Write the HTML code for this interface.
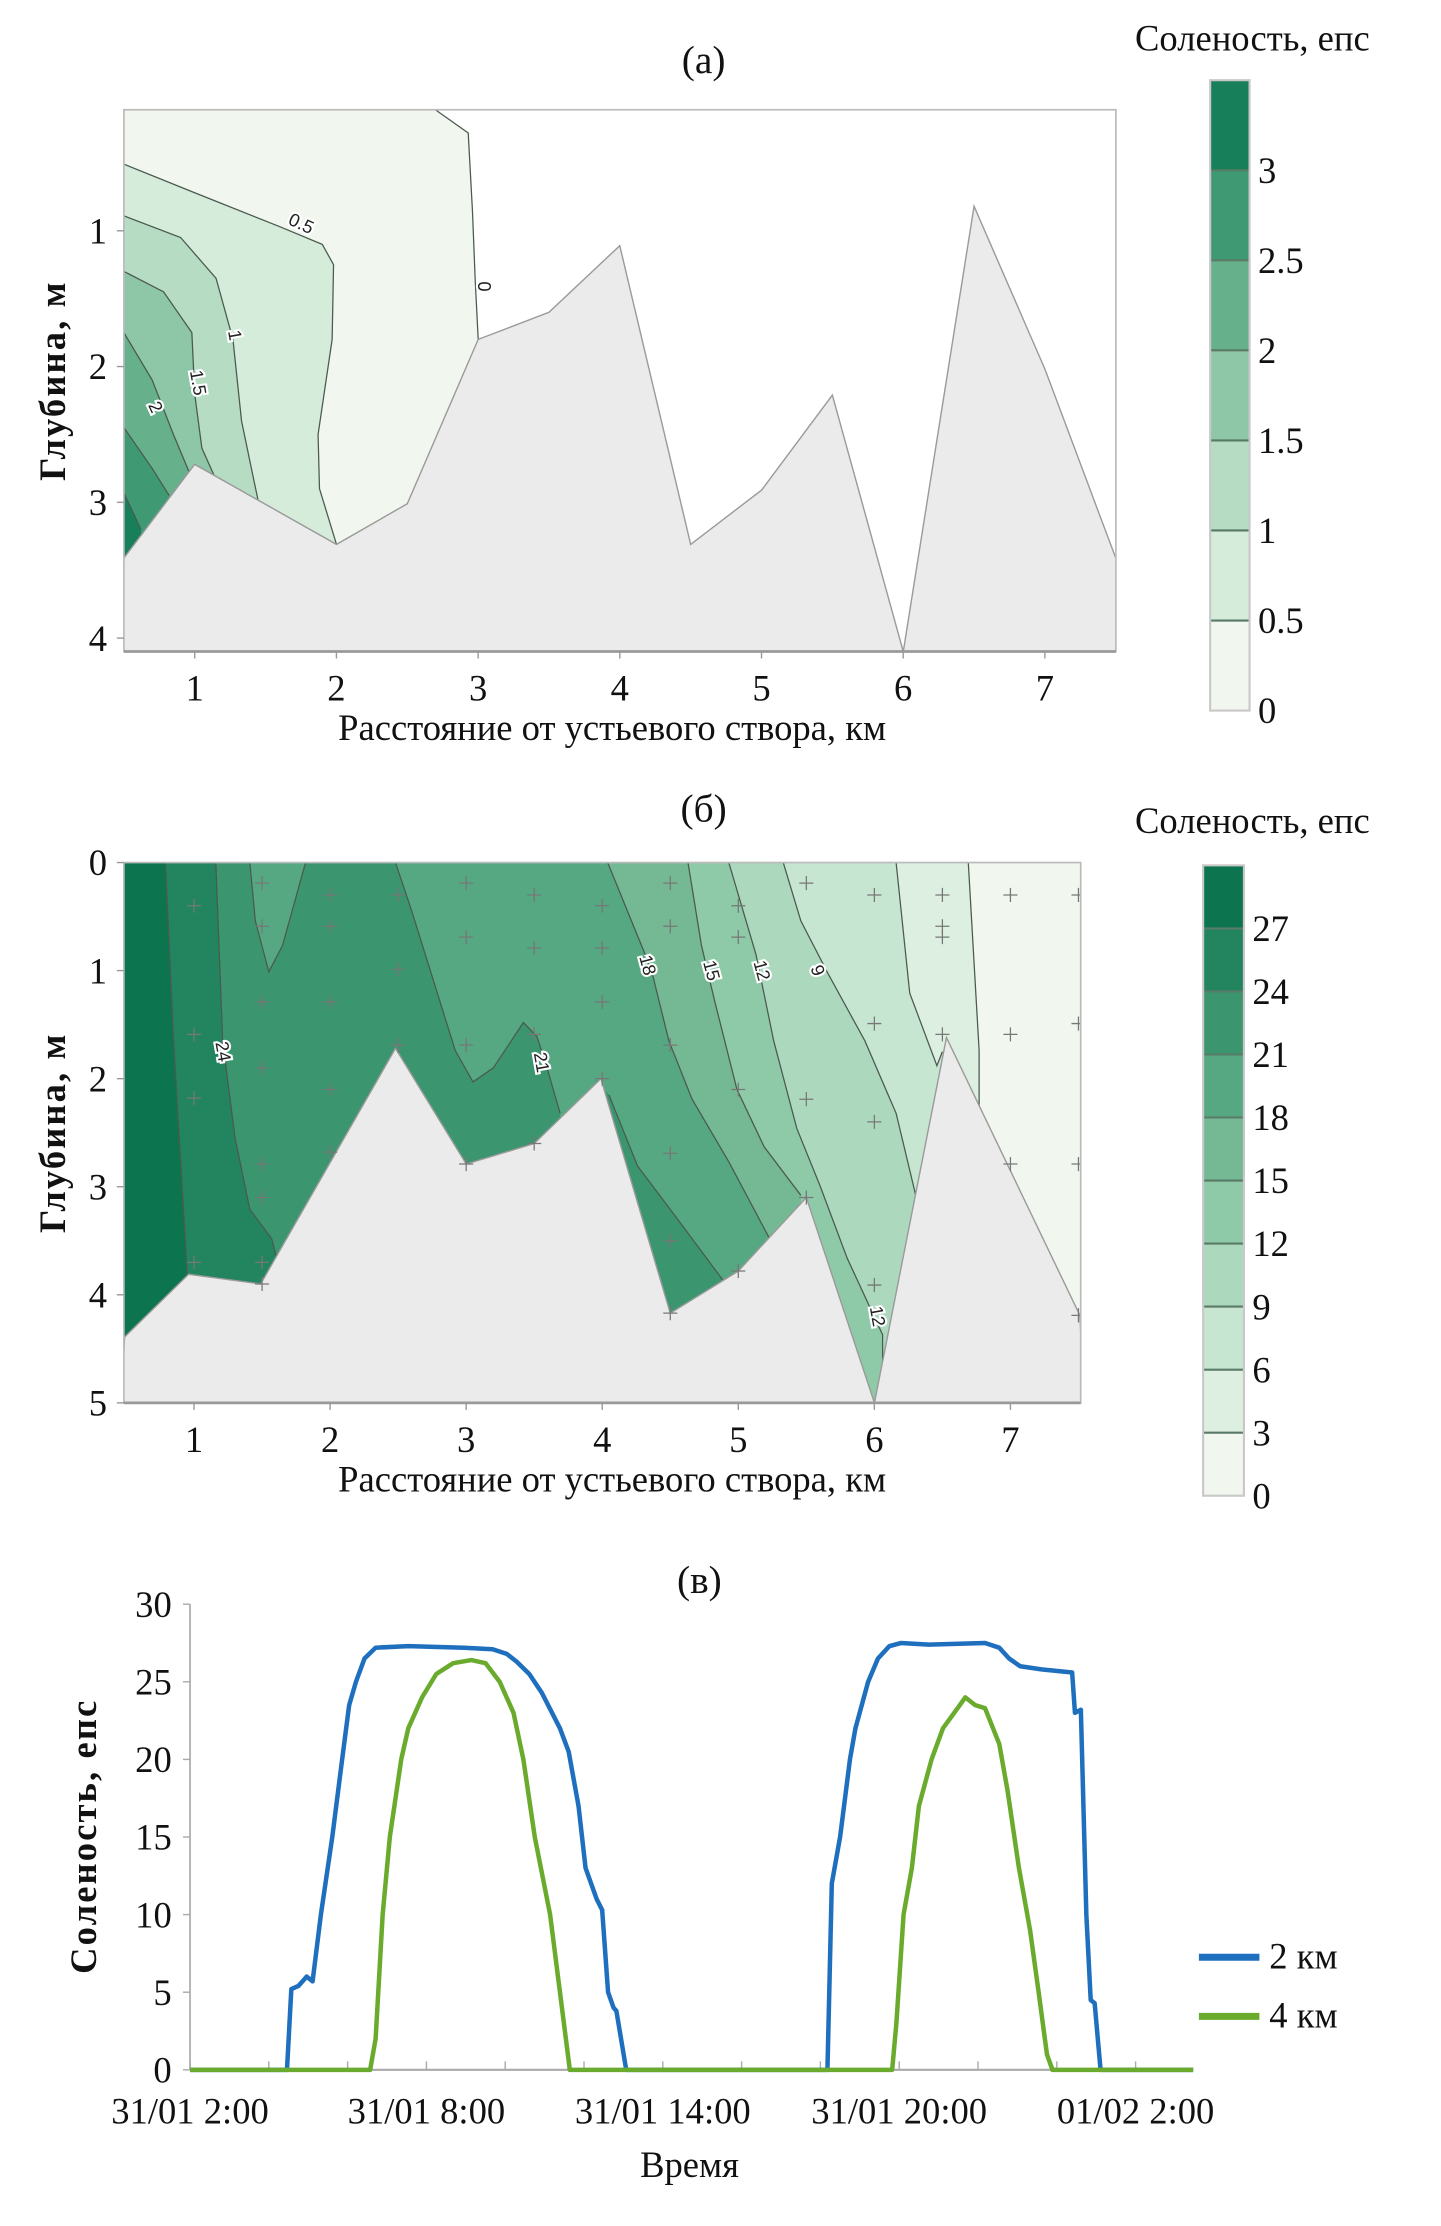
<!DOCTYPE html>
<html><head><meta charset="utf-8">
<style>
html,body{margin:0;padding:0;background:#fff;}
svg{display:block;}
text{font-family:"Liberation Serif",serif;fill:#111;}
.cl{font-family:"Liberation Sans",sans-serif;font-size:13px;fill:#222;stroke:#fff;stroke-width:3px;paint-order:stroke;}
</style></head>
<body>
<svg id="fig" xmlns="http://www.w3.org/2000/svg" width="1441" height="2226" viewBox="0 0 1024 1582">
<rect width="1024" height="1582" fill="#fff"/>
</svg>
<script>
// ---------- DATA: panel (a) ----------
const aBottomKm = [0.5,1.0,2.0,2.5,3.0,3.5,4.0,4.5,5.0,5.5,6.0,6.5,7.0,7.5];
const aBottomDepth = [3.41,2.72,3.31,3.01,1.80,1.60,1.11,3.31,2.91,2.21,4.10,0.82,2.02,3.41];
const aColors = ['#f1f7ee','#d6ecdb','#b6dcc4','#8dc7a7','#66b08b','#3f9a73','#17805a'];
const aContour0 = [[2.70,0.11],[2.93,0.28],[2.96,0.85],[2.98,1.37],[3.0,1.80]];
const aContour05 = [[0.5,0.51],[1.0,0.72],[1.6,0.97],[1.9,1.10],[1.98,1.25],[1.97,1.8],[1.87,2.5],[1.88,2.9],[2.0,3.31]];
const aContour1 = [[0.5,0.89],[0.9,1.05],[1.15,1.35],[1.27,1.8],[1.33,2.4],[1.42,2.85],[1.45,3.0]];
const aContour15 = [[0.5,1.3],[0.78,1.45],[0.98,1.75],[1.0,2.2],[1.05,2.6],[1.2,2.95]];
const aContour2 = [[0.5,1.75],[0.7,2.1],[0.85,2.5],[0.97,2.8]];
const aContour25 = [[0.5,2.45],[0.7,2.75],[0.82,2.95]];
const aContour3 = [[0.5,2.93],[0.62,3.2]];
const aLabels = [['0.5',1.75,0.95,25],['0',3.04,1.41,90],['1',1.28,1.77,80],['1.5',1.02,2.12,80],['2',0.72,2.3,65]];
const aXTicks = [1,2,3,4,5,6,7];
const aYTicks = [1,2,3,4];
const aBarLabels = ['0','0.5','1','1.5','2','2.5','3'];

// ---------- DATA: panel (б) ----------
const bBottomKm = [0.49,0.96,1.49,2.48,3.0,3.5,3.99,4.5,5.0,5.5,6.0,6.53,7.51];
const bBottomDepth = [4.39,3.81,3.90,1.72,2.79,2.6,2.0,4.17,3.78,3.1,5.0,1.62,4.19];
const bColors = ['#f1f7ee','#ddefe0','#c7e6d2','#acd9be','#8fcaa8','#74b894','#56a882','#3b9670','#228560','#0c7550'];
const bContour3 = [[6.69,0],[6.77,1.74],[6.77,2.25]];
const bContour6 = [[6.16,0],[6.26,1.21],[6.46,1.88],[6.5,1.75]];
const bContour9 = [[5.33,0],[5.46,0.54],[5.66,1.03],[5.93,1.65],[6.16,2.32],[6.3,3.06],[6.35,3.4]];
const bContour12 = [[4.93,0],[5.13,0.85],[5.26,1.65],[5.43,2.46],[5.6,2.99],[5.8,3.66],[6.06,4.37],[6.06,4.8]];
const bContour15 = [[4.63,0],[4.73,0.77],[4.83,1.3],[4.99,2.1],[5.19,2.63],[5.46,3.08]];
const bContour18 = [[4.04,0],[4.26,0.68],[4.36,0.99],[4.49,1.65],[4.66,2.19],[4.93,2.77],[5.23,3.48]];
const bContour21 = [[2.48,0],[2.6,0.45],[2.92,1.74],[3.05,2.03],[3.2,1.9],[3.42,1.48],[3.52,1.61],[3.59,1.88],[3.69,2.32]];
const bContour21Island = [[1.41,0],[1.45,0.54],[1.55,1.01],[1.65,0.77],[1.82,0]];
const bContour21Trough = [[4.05,2.15],[4.09,2.28],[4.26,2.81],[4.53,3.26],[4.89,3.87]];
const bContour24 = [[1.16,0],[1.21,1.65],[1.30,2.54],[1.41,3.21],[1.57,3.48],[1.62,3.72]];
const bContour27 = [[0.79,0],[0.85,1.65],[0.95,3.81]];
const bLabels = [['24',1.21,1.75,80],['21',3.55,1.85,80],['18',4.33,0.95,75],['15',4.8,1.0,75],['12',5.17,1.0,75],['9',5.58,1.0,70],['12',6.02,4.2,80]];
const bStationKm = [1,1,1,1,1.5,1.5,1.5,1.5,1.5,1.5,1.5,1.5,2,2,2,2,2,2.5,2.5,2.5,3,3,3,3,3.5,3.5,3.5,3.5,4,4,4,4,4.5,4.5,4.5,4.5,4.5,4.5,5,5,5,5,5.5,5.5,5.5,6,6,6,6,6.5,6.5,6.5,6.5,7,7,7,7.5,7.5,7.5,7.5];
const bStationDepth = [0.4,1.59,2.18,3.7,0.19,0.59,1.29,1.9,2.79,3.1,3.7,3.9,0.3,0.59,1.29,2.1,2.68,0.3,0.99,1.69,0.19,0.69,1.69,2.79,0.3,0.79,1.59,2.6,0.4,0.79,1.29,2.0,0.19,0.59,1.69,2.69,3.5,4.17,0.4,0.69,2.1,3.78,0.19,2.19,3.1,0.3,1.49,2.4,3.91,0.3,0.59,0.69,1.59,0.3,1.59,2.79,0.3,1.49,2.79,4.19];
const bXTicks = [1,2,3,4,5,6,7];
const bYTicks = [0,1,2,3,4,5];
const bBarLabels = ['0','3','6','9','12','15','18','21','24','27'];

// ---------- DATA: panel (в) ----------
const cBlueHours = [0,2.46,2.57,2.75,2.96,3.11,3.32,3.61,3.86,4.04,4.21,4.43,4.71,5.54,6.96,7.68,8.04,8.29,8.61,8.93,9.39,9.61,9.86,10.04,10.32,10.46,10.61,10.75,10.82,11.07,16.18,16.29,16.5,16.75,16.89,17.21,17.46,17.75,18.04,18.75,20.18,20.54,20.79,21.07,21.61,22.39,22.46,22.61,22.75,22.86,22.96,23.11,25.46];
const cBlueValues = [0,0,5.2,5.4,6,5.7,10,15,20,23.5,25,26.5,27.2,27.3,27.2,27.1,26.8,26.3,25.5,24.3,22,20.5,17,13,11,10.3,5,4,3.8,0,0,12,15,20,22,25,26.5,27.3,27.5,27.4,27.5,27.2,26.5,26,25.8,25.6,23,23.2,10,4.5,4.3,0,0];
const cGreenHours = [0,4.57,4.71,4.89,5.07,5.36,5.54,5.89,6.25,6.68,7.14,7.5,7.86,8.21,8.46,8.75,9.14,9.39,9.64,17.82,17.93,18.11,18.32,18.5,18.82,19.11,19.54,19.68,19.93,20.18,20.54,20.75,21.04,21.32,21.54,21.75,21.89,25.46];
const cGreenValues = [0,0,2,10,15,20,22,24,25.5,26.2,26.4,26.2,25,23,20,15,10,5,0,0,3,10,13,17,20,22,23.5,24,23.5,23.3,21,18,13,9,5,1,0,0];
const cYTicks = [0,5,10,15,20,25,30];
const cXTickLabels = ['31/01 2:00','31/01 8:00','31/01 14:00','31/01 20:00','01/02 2:00'];
const cXTickHours = [0,6,12,18,24];

// ---------- rendering ----------
const NS='http://www.w3.org/2000/svg';
const svg=document.getElementById('fig');
const FS=26;
function el(tag,attrs,parent){const e=document.createElementNS(NS,tag);for(const k in attrs)e.setAttribute(k,attrs[k]);(parent||svg).appendChild(e);return e;}
function txt(s,x,y,size,anchor,parent,extra){const t=el('text',Object.assign({x:x,y:y,'font-size':size,'text-anchor':anchor||'middle'},extra||{}),parent);t.textContent=s;return t;}
function pts(arr,sx,sy){return arr.map(p=>sx(p[0]).toFixed(1)+','+sy(p[1]).toFixed(1)).join(' ');}
function zip(a,b){return a.map((v,i)=>[v,b[i]]);}

function contourPanel(cfg){
  const g=el('g',{});
  
  
  const cid='clip'+cfg.id;
  const cp=el('clipPath',{id:cid},g);
  el('rect',{x:cfg.x0,y:cfg.y0,width:cfg.x1-cfg.x0,height:cfg.y1-cfg.y0},cp);
  const plot=el('g',{'clip-path':'url(#'+cid+')'},g);
  
  
  el('rect',{x:cfg.x0,y:cfg.y0,width:cfg.x1-cfg.x0,height:cfg.y1-cfg.y0,fill:cfg.bg},plot);
  cfg.bands.forEach(b=>{
    const poly=el('polygon',{points:pts(b.poly,cfg.sx,cfg.sy),fill:b.color},plot);
    
    
  });
  cfg.lines.forEach(l=>{
    const pl=el('polyline',{points:pts(l,cfg.sx,cfg.sy),fill:'none',stroke:'#4a5a50','stroke-width':0.9},plot);
    
    
  });
  const bot=cfg.bottom.slice();
  bot.push([cfg.xmax,9]);bot.unshift([cfg.xmin,9]);
  const bp=el('polygon',{points:pts(bot,cfg.sx,cfg.sy),fill:'#ebebeb',stroke:'#9a9a9a','stroke-width':1},plot);
  
  
  (cfg.crosses||[]).forEach(c=>{
    const x=cfg.sx(c[0]),y=cfg.sy(c[1]);
    const cr=el('path',{d:`M${x-5},${y}H${x+5}M${x},${y-5}V${y+5}`,stroke:'#777','stroke-width':0.9},plot);
    
    
  });
  cfg.labels.forEach(L=>{
    const x=cfg.sx(L[1]),y=cfg.sy(L[2]);
    const t=txt(L[0],x,y+4,13,'middle',plot,{class:'cl',transform:`rotate(${L[3]} ${x} ${y})`});
    
    
  });
  el('rect',{x:cfg.x0,y:cfg.y0,width:cfg.x1-cfg.x0,height:cfg.y1-cfg.y0,fill:'none',stroke:'#bbb','stroke-width':1.2},g);
  el('line',{x1:cfg.x0,y1:cfg.y1,x2:cfg.x1,y2:cfg.y1,stroke:'#999','stroke-width':2},g);
  const xa=el('g',{},g);
  cfg.xticks.forEach(v=>{const x=cfg.sx(v);el('line',{x1:x,y1:cfg.y1,x2:x,y2:cfg.y1+5,stroke:'#999'},xa);
    const t=txt(String(v),x,cfg.y1+35,FS,'middle',xa);});
  const ya=el('g',{},g);
  cfg.yticks.forEach(v=>{const y=cfg.sy(v);el('line',{x1:cfg.x0-5,y1:y,x2:cfg.x0,y2:y,stroke:'#999'},ya);
    const t=txt(String(v),cfg.x0-12,y+9,FS,'end',ya);});
  const xt=txt('Расстояние от устьевого створа, км',435,cfg.y1+63,FS,'middle',g);
  
  const yc=(cfg.y0+cfg.y1)/2;
  const yt=txt('Глубина, м',46,yc,FS,'middle',g,{transform:`rotate(-90 46 ${yc})`,'font-weight':'bold','letter-spacing':'1.5'});
  
  const tt=txt(cfg.title,500,cfg.titleY,28,'middle',g);
  
  const cb=el('g',{},g);
  const lt=txt('Соленость, епс',890,cfg.legTitleY,FS,'middle',cb);
  
  const n=cfg.colors.length, h=(cfg.cbBot-cfg.cbTop)/n;
  cfg.colors.forEach((c,i)=>{
    const y=cfg.cbBot-(i+1)*h;
    const r=el('rect',{x:cfg.cbX,y:y,width:cfg.cbW,height:h,fill:c},cb);
    
    if(i>0)el('line',{x1:cfg.cbX,y1:cfg.cbBot-i*h,x2:cfg.cbX+cfg.cbW,y2:cfg.cbBot-i*h,stroke:'#587a66','stroke-width':1.5},cb);
  });
  el('rect',{x:cfg.cbX,y:cfg.cbTop,width:cfg.cbW,height:cfg.cbBot-cfg.cbTop,fill:'none',stroke:'#c8c8c8','stroke-width':1.5},cb);
  cfg.barLabels.forEach((s,i)=>{const t=txt(s,cfg.cbX+cfg.cbW+6,cfg.cbBot-i*h+9,FS,'start',cb);
    });
}
function leftBand(line,color){const l=line[line.length-1];return {poly:[[0.5,line[0][1]],...line,[l[0],9],[0.4,9],[0.4,line[0][1]]],color:color};}

// Panel a
const aSx=km=>88+(km-0.5)*100.7, aSy=m=>67.5+m*96.5;
const aBandLines=[aContour0,aContour05,aContour1,aContour15,aContour2,aContour25,aContour3];
const aTop=[[0.4,0.0],[2.70,0.0]];
contourPanel({id:'a',name:'panel-a-salinity-section',x0:88,x1:793,y0:78,y1:463,sx:aSx,sy:aSy,xmin:0.3,xmax:7.7,bg:'#fff',
  bands:aBandLines.map((l,i)=>i===0?{poly:[...aTop,...l,[3.0,9],[0.4,9]],color:aColors[0]}:leftBand(l,aColors[i])),
  lines:aBandLines,bottom:zip(aBottomKm,aBottomDepth),labels:aLabels,xticks:aXTicks,yticks:aYTicks,
  title:'(а)',titleY:52,legTitleY:36,colors:aColors,cbX:860,cbW:28,cbTop:57,cbBot:505,barLabels:aBarLabels});

// Panel b
const bSx=km=>89.5+(km-0.5)*96.7, bSy=m=>613+m*76.8;
const bMain=[bContour3,bContour6,bContour9,bContour12,bContour15,bContour18];
const bBands=bMain.map((l,i)=>leftBand(l,bColors[i+1]));
bBands.push(leftBand(bContour21,bColors[7]));
bBands.push({poly:bContour21Island,color:bColors[6]});
bBands.push({poly:[...bContour21Trough,[4.5,4.6],[3.95,2.0]],color:bColors[7]});
bBands.push(leftBand(bContour24,bColors[8]));
bBands.push(leftBand(bContour27,bColors[9]));
contourPanel({id:'b',name:'panel-b-salinity-section',x0:88,x1:768,y0:613,y1:997,sx:bSx,sy:bSy,xmin:0.3,xmax:7.7,bg:bColors[0],
  bands:bBands,lines:[...bMain,bContour21,bContour21Island,bContour21Trough,bContour24,bContour27],
  bottom:zip(bBottomKm,bBottomDepth),labels:bLabels,crosses:zip(bStationKm,bStationDepth),xticks:bXTicks,yticks:bYTicks,
  title:'(б)',titleY:584,legTitleY:592,colors:bColors,cbX:855,cbW:29,cbTop:615,cbBot:1063,barLabels:bBarLabels});

// Panel c
(function(){
  const g=el('g',{});
  const sx=h=>135+h*28.0, sy=v=>1471-v*11.03;
  const tt=txt('(в)',497,1132,28,'middle',g);
  el('line',{x1:135,y1:sy(30),x2:135,y2:1471,stroke:'#aaa','stroke-width':1.2},g);
  el('line',{x1:135,y1:1471,x2:848,y2:1471,stroke:'#aaa','stroke-width':1.5},g);
  cYTicks.forEach(v=>{el('line',{x1:130,y1:sy(v),x2:135,y2:sy(v),stroke:'#aaa'},g);
    const t=txt(String(v),122,sy(v)+9,FS,'end',g);});
  for(let h=0;h<=24;h+=2){el('line',{x1:sx(h),y1:1471,x2:sx(h),y2:1465,stroke:'#aaa'},g);}
  cXTickHours.forEach((h,i)=>{const t=txt(cXTickLabels[i],sx(h),1509,FS,'middle',g);});
  const xt=txt('Время',490,1547,FS,'middle',g);
  const yt=txt('Соленость, епс',68,1305,FS,'middle',g,{transform:'rotate(-90 68 1305)','font-weight':'bold','letter-spacing':'1.5'});
  
  const blue=el('polyline',{points:pts(zip(cBlueHours,cBlueValues),sx,sy),fill:'none',stroke:'#1f6fbf','stroke-width':3.2,'stroke-linejoin':'round'},g);
  
  const green=el('polyline',{points:pts(zip(cGreenHours,cGreenValues),sx,sy),fill:'none',stroke:'#6aab2e','stroke-width':3.2,'stroke-linejoin':'round'},g);
  
  const lg=el('g',{},g);
  el('line',{x1:852,y1:1391,x2:895,y2:1391,stroke:'#1f6fbf','stroke-width':5},lg);
  const l1=txt('2 км',902,1399,FS,'start',lg);
  el('line',{x1:852,y1:1433,x2:895,y2:1433,stroke:'#6aab2e','stroke-width':5},lg);
  const l2=txt('4 км',902,1441,FS,'start',lg);
})();
</script>
</body></html>
